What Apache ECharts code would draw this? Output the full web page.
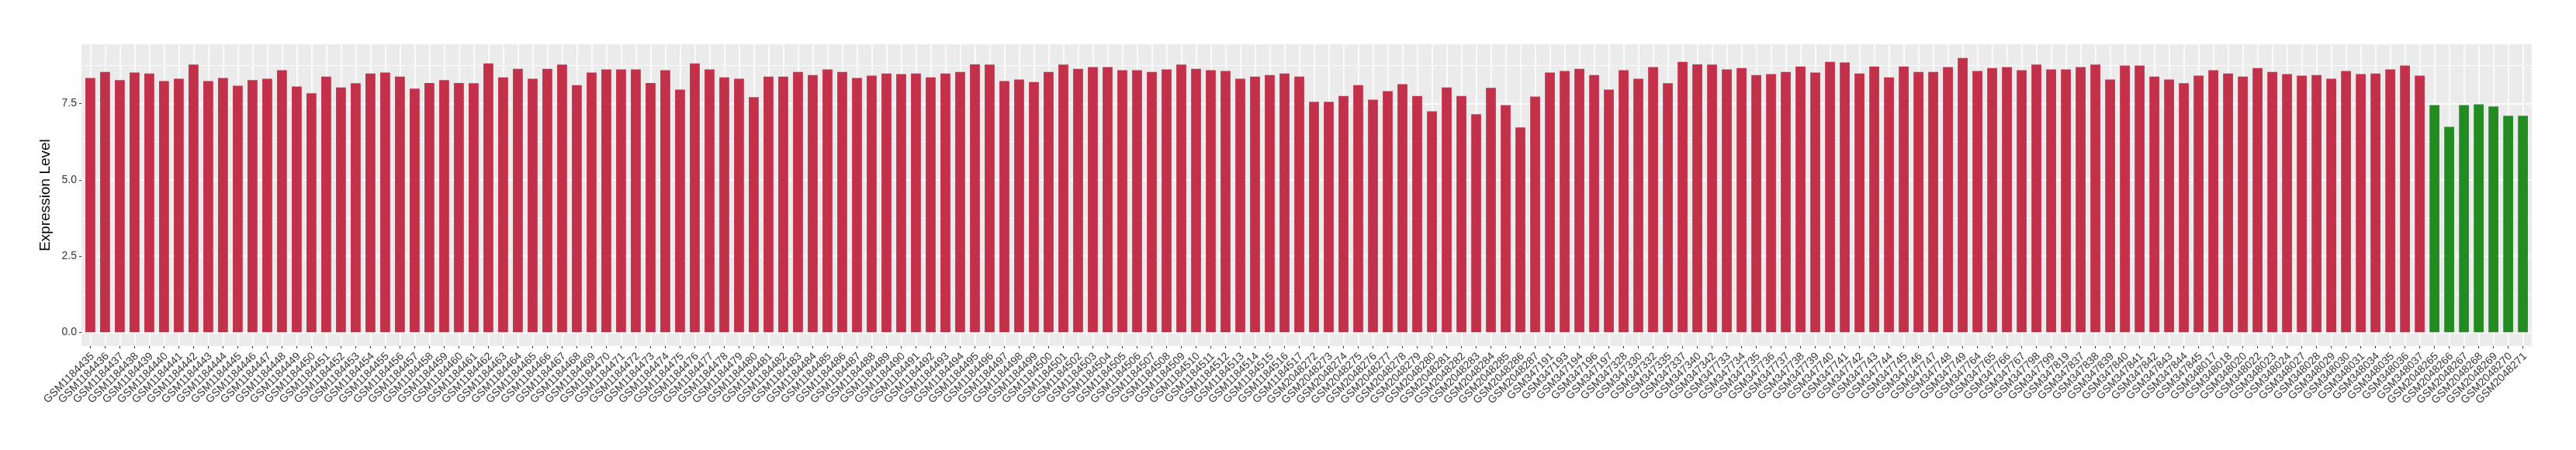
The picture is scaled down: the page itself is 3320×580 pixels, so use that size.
<!DOCTYPE html>
<html>
<head>
<meta charset="utf-8">
<script src="https://cdn.jsdelivr.net/npm/echarts@6/dist/echarts.min.js"></script>
<style>
  html, body { margin: 0; padding: 0; background: #ffffff; }
  #chart { width: 3320px; height: 580px; }
</style>
</head>
<body>
<div id="chart"></div>
<script>
// ---- data ----
const groupOneSamples = [
  'GSM1184435','GSM1184436','GSM1184437','GSM1184438','GSM1184439','GSM1184440','GSM1184441','GSM1184442','GSM1184443','GSM1184444',
  'GSM1184445','GSM1184446','GSM1184447','GSM1184448','GSM1184449','GSM1184450','GSM1184451','GSM1184452','GSM1184453','GSM1184454',
  'GSM1184455','GSM1184456','GSM1184457','GSM1184458','GSM1184459','GSM1184460','GSM1184461','GSM1184462','GSM1184463','GSM1184464',
  'GSM1184465','GSM1184466','GSM1184467','GSM1184468','GSM1184469','GSM1184470','GSM1184471','GSM1184472','GSM1184473','GSM1184474',
  'GSM1184475','GSM1184476','GSM1184477','GSM1184478','GSM1184479','GSM1184480','GSM1184481','GSM1184482','GSM1184483','GSM1184484',
  'GSM1184485','GSM1184486','GSM1184487','GSM1184488','GSM1184489','GSM1184490','GSM1184491','GSM1184492','GSM1184493','GSM1184494',
  'GSM1184495','GSM1184496','GSM1184497','GSM1184498','GSM1184499','GSM1184500','GSM1184501','GSM1184502','GSM1184503','GSM1184504',
  'GSM1184505','GSM1184506','GSM1184507','GSM1184508','GSM1184509','GSM1184510','GSM1184511','GSM1184512','GSM1184513','GSM1184514',
  'GSM1184515','GSM1184516','GSM1184517',
  'GSM2048272','GSM2048273','GSM2048274','GSM2048275','GSM2048276','GSM2048277','GSM2048278','GSM2048279','GSM2048280','GSM2048281',
  'GSM2048282','GSM2048283','GSM2048284','GSM2048285','GSM2048286','GSM2048287',
  'GSM347191','GSM347193','GSM347194','GSM347196','GSM347197','GSM347328','GSM347330','GSM347332','GSM347335','GSM347337',
  'GSM347340','GSM347342','GSM347733','GSM347734','GSM347735','GSM347736','GSM347737','GSM347738','GSM347739','GSM347740',
  'GSM347741','GSM347742','GSM347743','GSM347744','GSM347745','GSM347746','GSM347747','GSM347748','GSM347749','GSM347764',
  'GSM347765','GSM347766','GSM347767','GSM347798','GSM347799','GSM347819','GSM347837','GSM347838','GSM347839','GSM347840',
  'GSM347841','GSM347842','GSM347843','GSM347844','GSM347845','GSM348017','GSM348018','GSM348020','GSM348022','GSM348023',
  'GSM348024','GSM348027','GSM348028','GSM348029','GSM348030','GSM348031','GSM348034','GSM348035','GSM348036','GSM348037'
];
const groupOneValues = [
  8.34, 8.54, 8.27, 8.52, 8.49, 8.24, 8.32, 8.78, 8.24, 8.34,
  8.09, 8.27, 8.32, 8.60, 8.06, 7.84, 8.39, 8.03, 8.17, 8.49,
  8.52, 8.39, 7.99, 8.18, 8.27, 8.18, 8.17, 8.82, 8.36, 8.64,
  8.32, 8.64, 8.78, 8.11, 8.52, 8.62, 8.62, 8.62, 8.18, 8.60,
  7.96, 8.82, 8.62, 8.36, 8.32, 7.71, 8.39, 8.39, 8.54, 8.44,
  8.62, 8.54, 8.34, 8.42, 8.49, 8.47, 8.49, 8.36, 8.49, 8.54,
  8.79, 8.78, 8.24, 8.29, 8.21, 8.54, 8.78, 8.64, 8.70, 8.70,
  8.60, 8.60, 8.54, 8.62, 8.78, 8.64, 8.60, 8.57, 8.32, 8.39,
  8.44, 8.49, 8.39,
  7.56, 7.56, 7.75, 8.11, 7.63, 7.91, 8.14, 7.75, 7.25, 8.03,
  7.75, 7.15, 8.02, 7.45, 6.72, 7.73,
  8.52, 8.57, 8.64, 8.44, 7.96, 8.60, 8.32, 8.70, 8.17, 8.87,
  8.79, 8.78, 8.62, 8.67, 8.44, 8.47, 8.54, 8.72, 8.52, 8.87,
  8.85, 8.49, 8.72, 8.36, 8.72, 8.54, 8.54, 8.70, 9.00, 8.57,
  8.67, 8.70, 8.60, 8.78, 8.62, 8.62, 8.70, 8.78, 8.29, 8.75,
  8.75, 8.39, 8.29, 8.17, 8.42, 8.60, 8.49, 8.39, 8.67, 8.54,
  8.47, 8.42, 8.44, 8.32, 8.57, 8.47, 8.49, 8.62, 8.75, 8.42
];
const groupTwoSamples = ['GSM2048265','GSM2048266','GSM2048267','GSM2048268','GSM2048269','GSM2048270','GSM2048271'];
const groupTwoValues = [7.45, 6.74, 7.45, 7.48, 7.41, 7.10, 7.10];

const yTickValues = [0, 2.5, 5, 7.5];
const yMinorValues = [1.25, 3.75, 6.25, 8.75];
const yAxisTitle = 'Expression Level';

// ---- build ----
const categories = groupOneSamples.concat(groupTwoSamples);
const N = categories.length;
const GROUP_ONE_COLOR = '#C3304A';
const GROUP_TWO_COLOR = '#228B22';

const positions = categories.map((_, i) => i + 1);
const barData = [];
groupOneValues.forEach((v, i) => barData.push({ value: [i + 1, v], itemStyle: { color: GROUP_ONE_COLOR } }));
groupTwoValues.forEach((v, i) => barData.push({ value: [groupOneValues.length + i + 1, v], itemStyle: { color: GROUP_TWO_COLOR } }));

const yMax = Math.max.apply(null, groupOneValues.concat(groupTwoValues));
const yPad = yMax * 0.05;

const gridLines = [];
yTickValues.forEach(v => gridLines.push({ yAxis: v, lineStyle: { color: '#ffffff', width: 1.6, type: 'solid' } }));
yMinorValues.forEach(v => gridLines.push({ yAxis: v, lineStyle: { color: '#ffffff', width: 0.8, type: 'solid' } }));
positions.forEach(p => gridLines.push({ xAxis: p, lineStyle: { color: '#ffffff', width: 1.6, type: 'solid' } }));

// layout (ggplot-like panel with 0.6 category padding at each end)
const PANEL_LEFT = 105, PANEL_RIGHT = 57, PANEL_TOP = 57, PANEL_BOTTOM = 134;
const panelWidth = 3320 - PANEL_LEFT - PANEL_RIGHT;
const unit = panelWidth / (N + 0.2);
const labelInset = 0.1 * unit;

const FONT = '"Liberation Sans", Arial, Helvetica, sans-serif';
const TEXT_COLOR = '#333333';

const chart = echarts.init(document.getElementById('chart'), null, { renderer: 'canvas' });
chart.setOption({
  animation: false,
  backgroundColor: '#ffffff',
  grid: [
    { left: PANEL_LEFT, top: PANEL_TOP, right: PANEL_RIGHT, bottom: PANEL_BOTTOM,
      show: true, backgroundColor: '#EBEBEB', borderWidth: 0 },
    { left: PANEL_LEFT + labelInset, top: PANEL_TOP, right: PANEL_RIGHT + labelInset, bottom: PANEL_BOTTOM,
      show: false }
  ],
  xAxis: [
    {
      gridIndex: 0,
      type: 'value',
      min: 0.4,
      max: N + 0.6,
      axisLine: { show: false },
      splitLine: { show: false },
      minorSplitLine: { show: false },
      axisTick: { show: false },
      axisLabel: { show: false }
    },
    {
      gridIndex: 1,
      type: 'category',
      data: categories,
      axisLine: { show: false },
      splitLine: { show: false },
      axisTick: { show: true, alignWithLabel: true, interval: 0, length: 3, lineStyle: { color: '#333333', width: 1 } },
      axisLabel: {
        show: true,
        interval: 0,
        rotate: 45,
        margin: 4,
        padding: [0, 3, 0, 0],
        align: 'right',
        verticalAlign: 'top',
        color: TEXT_COLOR,
        fontSize: 14,
        fontFamily: FONT
      }
    }
  ],
  yAxis: [
    {
      gridIndex: 0,
      type: 'value',
      min: -yPad,
      max: yMax + yPad,
      name: yAxisTitle,
      nameLocation: 'middle',
      nameRotate: 90,
      nameGap: 24,
      nameTextStyle: { color: '#000000', fontSize: 19, fontFamily: FONT },
      axisLine: { show: false },
      splitLine: { show: false },
      axisTick: { show: true, customValues: yTickValues, length: 3, lineStyle: { color: '#333333', width: 1 } },
      axisLabel: {
        show: true,
        customValues: yTickValues,
        showMinLabel: true,
        showMaxLabel: true,
        margin: 6,
        color: TEXT_COLOR,
        fontSize: 14,
        fontFamily: FONT,
        formatter: v => Number(v).toFixed(1)
      }
    },
    {
      gridIndex: 1,
      type: 'value',
      show: false
    }
  ],
  series: [
    {
      type: 'line',
      name: 'grid',
      xAxisIndex: 0,
      yAxisIndex: 0,
      z: 1,
      silent: true,
      data: [],
      markLine: {
        z: 1,
        silent: true,
        symbol: ['none', 'none'],
        label: { show: false },
        emphasis: { disabled: true },
        animation: false,
        data: gridLines
      }
    },
    {
      type: 'bar',
      name: 'Expression',
      xAxisIndex: 0,
      yAxisIndex: 0,
      z: 3,
      barWidth: '67%',
      data: barData
    }
  ]
});
</script>
</body>
</html>
